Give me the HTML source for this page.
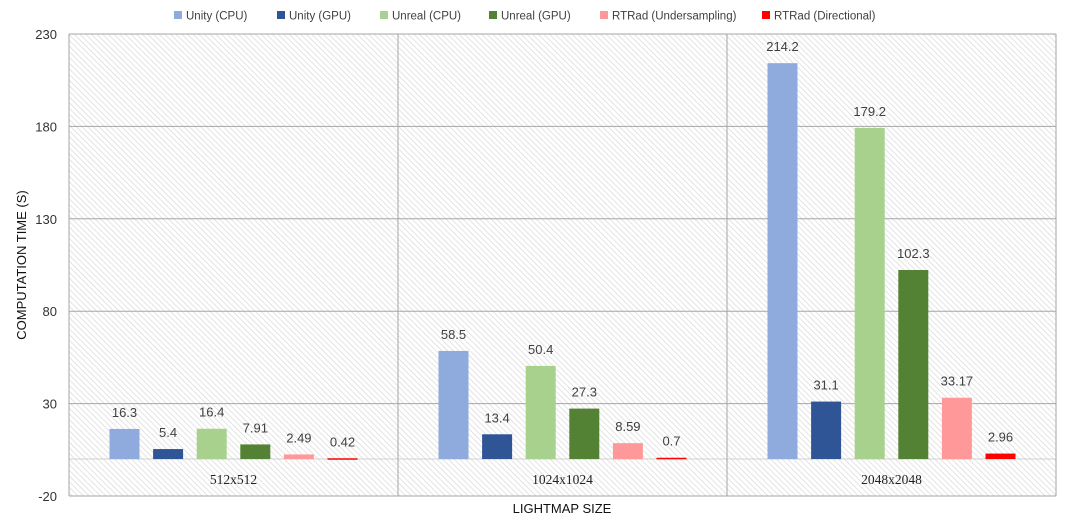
<!DOCTYPE html>
<html><head><meta charset="utf-8"><style>
body{margin:0;background:#fff;}
svg text{font-family:"Liberation Sans",sans-serif;}
</style></head><body>
<svg width="1077" height="525" xmlns="http://www.w3.org/2000/svg">
<defs>
<pattern id="hatch" width="4" height="4" patternUnits="userSpaceOnUse" patternTransform="rotate(-45)">
<rect width="4" height="4" fill="#fff"/>
<line x1="0" y1="0" x2="0" y2="4" stroke="#d6d6d6" stroke-width="1.3"/>
</pattern>
</defs>
<g id="root"></g>
</svg>
<script>
const categories=["512x512","1024x1024","2048x2048"];
const seriesNames=["Unity (CPU)","Unity (GPU)","Unreal (CPU)","Unreal (GPU)","RTRad (Undersampling)","RTRad (Directional)"];
const seriesColors=["#8faadc","#2f5597","#a9d18e","#548235","#ff9999","#ff0000"];
const unityCPU=[16.3,58.5,214.2];
const unityGPU=[5.4,13.4,31.1];
const unrealCPU=[16.4,50.4,179.2];
const unrealGPU=[7.91,27.3,102.3];
const rtradUnder=[2.49,8.59,33.17];
const rtradDir=[0.42,0.7,2.96];
const yTicks=[230,180,130,80,30,-20];
const series=[unityCPU,unityGPU,unrealCPU,unrealGPU,rtradUnder,rtradDir];
const NS="http://www.w3.org/2000/svg";
const root=document.getElementById('root');
const L=69,R=1056,T=34,B=496,yMin=-20,yMax=230;
const y=v=>B-(v-yMin)/(yMax-yMin)*(B-T);
const catW=(R-L)/categories.length;
const x=(c,s)=>L+catW*c+catW/2+(s-2.5)*43.6;
function mk(tag,attrs,parent){const e=document.createElementNS(NS,tag);for(const k in attrs)e.setAttribute(k,attrs[k]);(parent||root).appendChild(e);return e;}
let bg=mk('rect',{x:L,y:T,width:R-L,height:B-T,fill:'url(#hatch)'});


yTicks.forEach(t=>{
 let g=mk('line',{x1:L,x2:R,y1:y(t),y2:y(t),stroke:'#a6a6a6','stroke-width':1});
 
 
 let tx=mk('text',{x:L-12,y:y(t)+5,'text-anchor':'end','font-size':13,fill:'#333'});
 tx.textContent=t;
 
 
});
let z=mk('line',{x1:L,x2:R,y1:y(0),y2:y(0),stroke:'#d0d0d0','stroke-width':1});


for(let c=0;c<=categories.length;c++){
 let v=mk('line',{x1:L+catW*c,x2:L+catW*c,y1:T,y2:B,stroke:'#a6a6a6','stroke-width':1});
 
 
}
categories.forEach((cat,c)=>{
 let t=mk('text',{x:L+catW*c+catW/2,y:484,'text-anchor':'middle','font-size':13.5,fill:'#222'});
 t.style.fontFamily='"Liberation Serif", serif';
 t.textContent=cat;
 
 
 series.forEach((arr,s)=>{
  const v=arr[c];
  let b=mk('rect',{x:x(c,s)-15,y:y(v),width:30,height:Math.max(1.5,y(0)-y(v)),fill:seriesColors[s]});
  
  
  let lb=mk('text',{x:x(c,s),y:y(v)-12,'text-anchor':'middle','font-size':13,fill:'#404040'});
  lb.textContent=v;
  
  
 });
});
let yt=mk('text',{x:26,y:265,'text-anchor':'middle','font-size':13,fill:'#111',transform:'rotate(-90 26 265)'});
yt.textContent='COMPUTATION TIME (S)';


let xt=mk('text',{x:562,y:513,'text-anchor':'middle','font-size':13,fill:'#111'});
xt.textContent='LIGHTMAP SIZE';


const legX=[174,277,380,489,600,762];
seriesNames.forEach((n,s)=>{
 let r=mk('rect',{x:legX[s],y:11,width:8,height:8,fill:seriesColors[s]});
 
 
 let t=mk('text',{x:legX[s]+12,y:19.5,'font-size':11.5,fill:'#404040'});
 t.textContent=n;
 
 
});
</script>
</body></html>
